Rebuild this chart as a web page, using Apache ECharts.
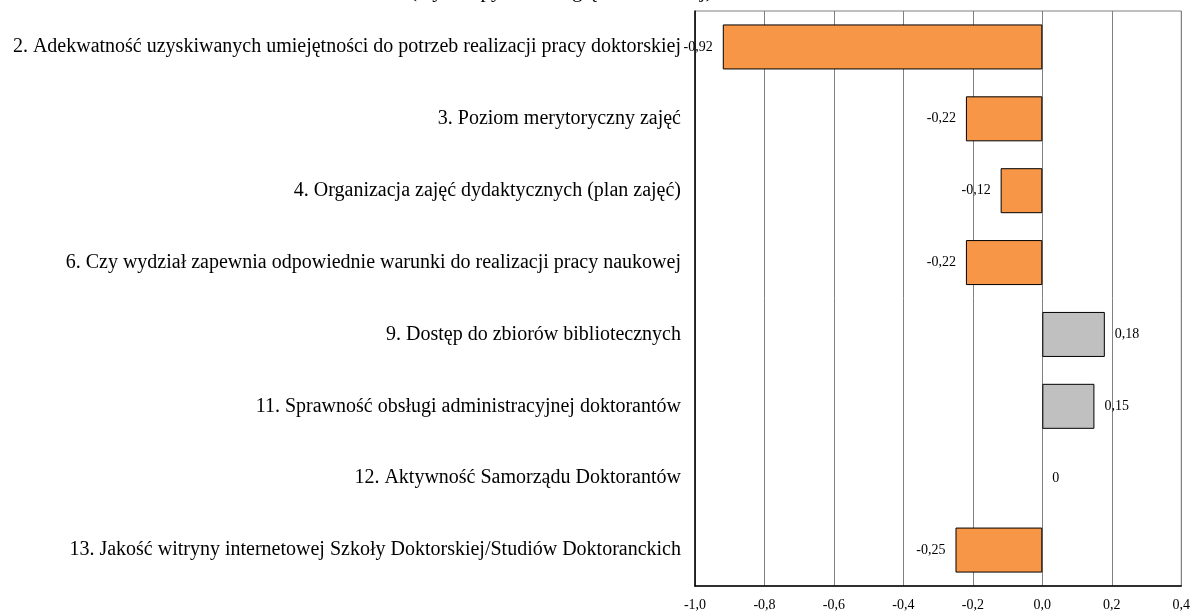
<!DOCTYPE html>
<html>
<head>
<meta charset="utf-8">
<script src="https://cdn.jsdelivr.net/npm/echarts@6/dist/echarts.min.js"></script>
<style>
	html, body { margin: 0; padding: 0; background: #fff; }
	#chart-area { width: 1193px; height: 612px; }
</style>
</head>
<body>
<div id="chart-area"></div>
<script>
var categories = [
	'2. Adekwatność uzyskiwanych umiejętności do potrzeb realizacji pracy doktorskiej',
	'3. Poziom merytoryczny zajęć',
	'4. Organizacja zajęć dydaktycznych (plan zajęć)',
	'6. Czy wydział zapewnia odpowiednie warunki do realizacji pracy naukowej',
	'9. Dostęp do zbiorów bibliotecznych',
	'11. Sprawność obsługi administracyjnej doktorantów',
	'12. Aktywność Samorządu Doktorantów',
	'13. Jakość witryny internetowej Szkoły Doktorskiej/Studiów Doktoranckich'
];
var values = [-0.92, -0.22, -0.12, -0.22, 0.18, 0.15, 0, -0.25];
var subtitle = '(wyniki pytania względem średniej)';

var serif = "'Liberation Serif', 'Times New Roman', serif";

function comma(v, d) {
	var s = (Math.round(v * Math.pow(10, d)) / Math.pow(10, d)).toFixed(d);
	return s.replace('.', ',');
}

//each bar: colour and label side from its sign
var barData = values.map(function (v) {
	var item = {
		value: v,
		itemStyle: { color: v < 0 ? '#F79646' : '#C0C0C0' },
		label: { position: v < 0 ? 'left' : 'right' }
	};
	if (v === 0) item.itemStyle.borderWidth = 0;
	return item;
});

var myChart = echarts.init(document.getElementById('chart-area'));
var option = {
	animation: false,
	graphic: [{
		type: 'text',
		left: 410,
		top: -19,
		style: { text: subtitle, font: '21px ' + serif, fill: '#000' }
	}],
	grid: {
		left: 695, right: 8, top: 11, bottom: 26,
		show: true, borderColor: '#808080', borderWidth: 1
	},
	xAxis: {
		type: 'value',
		min: -1, max: 0.4, interval: 0.2,
		axisLine: { show: true, onZero: false, lineStyle: { color: '#000', width: 1.5 } },
		axisTick: { show: false },
		splitLine: { show: true, lineStyle: { color: '#808080', width: 1 } },
		axisLabel: {
			margin: 12, color: '#000', fontSize: 14, fontFamily: serif,
			formatter: function (v) { return comma(v, 1); }
		}
	},
	yAxis: {
		type: 'category',
		inverse: true,
		data: categories,
		axisLine: { show: true, onZero: false, lineStyle: { color: '#000', width: 1.5 } },
		axisTick: { show: false },
		axisLabel: { margin: 14, color: '#000', fontSize: 20, fontFamily: serif }
	},
	series: [{
		type: 'bar',
		barWidth: 45,
		data: barData,
		itemStyle: { borderColor: '#000', borderWidth: 1 },
		label: {
			show: true, distance: 10, color: '#000', fontSize: 14, fontFamily: serif,
			formatter: function (p) { return p.value === 0 ? '0' : comma(p.value, 2); }
		}
	}]
};
myChart.setOption(option);
</script>
</body>
</html>
